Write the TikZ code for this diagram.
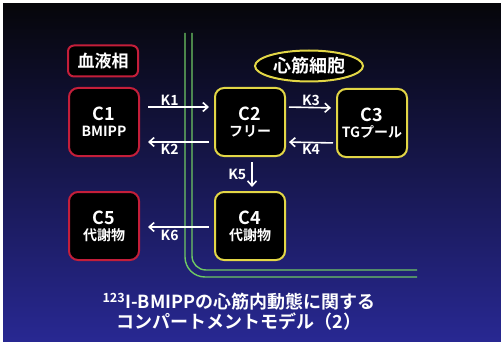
\documentclass[tikz,border=0pt]{standalone}
\usepackage{fontspec}
\setmainfont{Noto Sans CJK JP}[BoldFont={* Bold}]
\usepackage{tikz}
\usetikzlibrary{math,shapes.geometric,arrows.meta}

\definecolor{slidetop}{RGB}{6,6,10}
\definecolor{slidemid}{RGB}{32,22,62}
\definecolor{slidebot}{RGB}{40,40,146}
\definecolor{bloodred}{RGB}{196,30,58}
\definecolor{cellyellow}{RGB}{226,214,70}
\definecolor{wallgreen}{RGB}{110,200,100}

\newcommand{\subtxt}[1]{{\fontsize{14}{15}\selectfont #1}}

\tikzset{
  comp/.style={draw=#1, line width=2pt, fill=black, rounded corners=9pt,
    minimum width=70pt, minimum height=68pt, align=center, text=white,
    font=\bfseries\fontsize{18}{19}\selectfont},
  rate/.style={text=white, font=\bfseries\fontsize{14}{15}\selectfont, inner sep=1pt},
  flow/.style={draw=white, line width=1.6pt, -{Straight Barb[length=5pt,width=9pt]}},
  wall/.style={draw=wallgreen, line width=1.4pt},
}

\begin{document}
\begin{tikzpicture}[x=1pt, y=-1pt]

\tikzmath{
\up = 15;
\down = 20;
}

\useasboundingbox (0,0) rectangle (501,345);
\fill[white] (0,0) rectangle (501,345);
\shade[top color=slidetop, middle color=slidemid, bottom color=slidebot] (3,4) rectangle (501,341);

% cell membrane
\draw[wall, rounded corners=20pt] (185,33) -- (185,277) -- (417,277);
\draw[wall, rounded corners=14pt] (192,33) -- (192,270) -- (417,270);

% phase labels
\node[draw=bloodred, line width=2pt, fill=black, rounded corners=6pt, text=white,
  font=\bfseries\fontsize{17}{18}\selectfont, minimum width=70pt, minimum height=31pt, inner sep=1pt]
  (blood) at (103,61) {血液相};
\node[ellipse, draw=cellyellow, line width=2pt, fill=black, text=white,
  font=\bfseries\fontsize{18}{19}\selectfont, minimum width=108pt, minimum height=31pt, inner sep=0pt]
  (cell) at (309,66) {心筋細胞};

% compartments
\node[comp=bloodred] (C1) at (104,122) {C1\\[-3pt]\subtxt{BMIPP}};
\node[comp=cellyellow] (C2) at (250,122) {C2\\[-3pt]\subtxt{フリー}};
\node[comp=cellyellow] (C3) at (372,123) {C3\\[-3pt]\subtxt{TGプール}};
\node[comp=cellyellow] (C4) at (250,226) {C4\\[-3pt]\subtxt{代謝物}};
\node[comp=bloodred] (C5) at (104,226) {C5\\[-3pt]\subtxt{代謝物}};

% rate constants
\draw[flow, shorten <=8pt, shorten >=5pt] ([yshift=\up pt]C1.east) -- ([yshift=\up pt]C2.west)
  node[rate, above, pos=0.4] {K1};
\draw[flow, shorten <=5pt, shorten >=8pt] ([yshift=-\down pt]C2.west) -- ([yshift=-\down pt]C1.east)
  node[rate, below, pos=0.6] {K2};
\draw[flow, shorten <=3pt, shorten >=5pt] ([yshift=\up pt]C2.east) -- ([yshift=\up pt]C3.west)
  node[rate, above, midway] {K3};
\draw[flow, shorten <=3pt, shorten >=3pt] ([yshift=-\down pt]C3.west) -- ([yshift=-\down pt]C2.east)
  node[rate, below, midway] {K4};
\draw[flow, shorten <=5pt, shorten >=4pt] ([xshift=2pt]C2.south) -- ([xshift=2pt]C4.north)
  node[rate, left, midway, xshift=-4pt] {K5};
\draw[flow, shorten <=5pt, shorten >=8pt] ([yshift=-1pt]C4.west) -- ([yshift=-1pt]C5.east)
  node[rate, below, pos=0.6, yshift=-1pt] {K6};

% title
\node[text=white, font=\bfseries\fontsize{18}{20}\selectfont, align=center] (title) at (239,312)
  {\textsuperscript{123}I-BMIPPの心筋内動態に関する\\コンパートメントモデル（2）};

\end{tikzpicture}
\end{document}
